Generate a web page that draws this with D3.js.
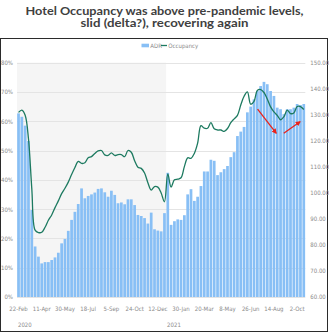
<!DOCTYPE html>
<html>
<head>
<meta charset="utf-8">
<script src="https://cdn.jsdelivr.net/npm/d3@7"></script>
<style>
  html, body { margin: 0; padding: 0; background: #fff; }
  svg { display: block; }
  .ax text { font-family: "Liberation Sans Narrow", "DejaVu Sans Condensed", sans-serif; font-size: 6px; fill: #8a8a8a; }
</style>
</head>
<body>
<svg id="chart" width="329" height="333"></svg>
<script>
// Weekly series, week starting 22 Feb 2020
const startWeek = new Date(2020, 1, 22);
const weekCount = 87;

// Average daily rate (right axis, $)
const adr = [
  130.5, 129.2, 125.8, 119.9, 93.4, 79.4, 75.5, 72.9, 73.4, 73.4,
  74.2, 75.2, 77.0, 80.6, 82.3, 85.4, 89.6, 92.7, 95.7, 101.7,
  97.9, 98.8, 99.4, 100.1, 101.5, 101.7, 100.2, 98.5, 100.8, 99.2,
  96.0, 96.3, 95.6, 97.5, 97.5, 95.3, 91.5, 91.1, 90.3, 88.2,
  92.4, 86.0, 85.5, 85.2, 92.2, 107.7, 87.7, 89.1, 89.8, 89.6,
  91.4, 99.4, 101.4, 96.9, 98.5, 102.6, 108.2, 108.2, 112.7, 112.3,
  106.8, 107.9, 109.1, 110.3, 113.7, 115.6, 121.8, 123.5, 125.3, 130.9,
  133.1, 135.9, 139.1, 141.0, 142.6, 141.7, 139.1, 137.2, 132.7, 132.1,
  130.2, 132.1, 132.1, 132.7, 134.1, 133.7, 134.1
];

// Occupancy (left axis, %)
const occupancy = [
  63.0, 63.8, 62.0, 54.0, 37.0, 22.8, 22.0, 22.1, 23.8, 26.2,
  28.0, 30.5, 32.8, 35.3, 37.1, 39.2, 41.8, 44.2, 46.3, 45.6,
  45.8, 47.5, 47.9, 49.0, 49.9, 50.0, 48.5, 48.3, 49.2, 48.3,
  48.6, 48.6, 47.9, 50.0, 49.4, 46.5, 44.3, 43.9, 42.3, 39.0,
  36.5, 37.7, 37.5, 35.5, 32.5, 42.0, 37.5, 40.0, 40.2, 40.7,
  44.5, 47.5, 47.3, 49.0, 52.5, 58.5, 57.6, 57.6, 59.5, 57.4,
  57.0, 57.0, 56.5, 57.5, 59.5, 60.8, 62.0, 65.5, 68.5, 70.0,
  65.8, 66.8, 70.5, 70.8, 69.8, 67.6, 64.9, 63.2, 62.0, 60.5,
  61.5, 63.8, 62.6, 62.8, 65.0, 65.0, 64.0
];

const leftTicks = [0, 10, 20, 30, 40, 50, 60, 70, 80];
const rightTicks = [60, 70, 80, 90, 100, 110, 120, 130, 140, 150];
const tickEvery = 7;
const yearLabels = ["2020", "2021"];

// Annotation arrows, in (week index, occupancy %) space
const arrows = [
  { from: [72.6, 64.1], to: [78.2, 55.9] },
  { from: [80.5, 55.9], to: [85.4, 59.8] }
];

const titleLines = [
  { text: "Hotel Occupancy was above pre-pandemic levels,", width: 278 },
  { text: "slid (delta?), recovering again", width: 168 }
];

const weeks = d3.range(weekCount).map(i => d3.timeWeek.offset(startWeek, i));
const fmt = d3.timeFormat("%-d-%b");

const svg = d3.select("#chart");

// Title
svg.append("g").selectAll("text").data(titleLines).join("text")
  .attr("x", 164.5).attr("y", (d, i) => 15 + i * 11.5)
  .attr("text-anchor", "middle")
  .attr("font-family", "Lato, 'Open Sans', sans-serif")
  .attr("font-weight", "bold")
  .attr("font-size", 11.2)
  .attr("fill", "#404040")
  .attr("textLength", d => d.width)
  .attr("lengthAdjust", "spacingAndGlyphs")
  .text(d => d.text);

// Chart frame
svg.append("rect")
  .attr("x", 0.5).attr("y", 38.5).attr("width", 327).attr("height", 293)
  .attr("fill", "#fff").attr("stroke", "#2b2b2b").attr("stroke-width", 1);

const plot = { left: 17, right: 305.3, top: 62.6, bottom: 297 };

const x = d3.scaleBand().domain(weeks).range([plot.left, plot.right]).paddingInner(0.18).paddingOuter(0.05);
const xi = d3.scaleLinear().domain([0, weekCount]).range([plot.left, plot.right]);
const yL = d3.scaleLinear().domain([0, 80]).range([plot.bottom, plot.top]);
const yR = d3.scaleLinear().domain([60, 150]).range([plot.bottom, plot.top]);

// Shaded 2020 band
const first2021 = weeks.findIndex(d => d.getFullYear() === 2021);
svg.append("rect")
  .attr("x", plot.left).attr("y", plot.top)
  .attr("width", xi(first2021) - plot.left).attr("height", plot.bottom - plot.top)
  .attr("fill", "#f5f5f5");

// Gridlines
svg.append("g").selectAll("line").data(leftTicks).join("line")
  .attr("x1", plot.left).attr("x2", plot.right)
  .attr("y1", d => Math.round(yL(d)) + 0.5).attr("y2", d => Math.round(yL(d)) + 0.5)
  .attr("stroke", "#e4e4e4").attr("stroke-width", 1);

// ADR bars
svg.append("g").selectAll("rect").data(adr).join("rect")
  .attr("x", (d, i) => x(weeks[i]))
  .attr("width", x.bandwidth())
  .attr("y", d => yR(d))
  .attr("height", d => yR(60) - yR(d))
  .attr("fill", "#88bff5");

// Occupancy line
const line = d3.line()
  .x((d, i) => x(weeks[i]) + x.bandwidth() / 2)
  .y(d => yL(d))
  .curve(d3.curveCatmullRom.alpha(0.5));
svg.append("path").datum(occupancy)
  .attr("d", line)
  .attr("fill", "none").attr("stroke", "#1d7a60").attr("stroke-width", 1.3);

// Left axis
const axL = d3.axisLeft(yL).tickValues(leftTicks).tickFormat(d => d + "%").tickSize(0).tickPadding(4);
svg.append("g").attr("class", "ax").attr("transform", `translate(${plot.left},0)`).call(axL)
  .call(g => g.select(".domain").remove());

// Right axis
const axR = d3.axisRight(yR).tickValues(rightTicks).tickFormat(d3.format(".2f")).tickSize(0).tickPadding(5);
svg.append("g").attr("class", "ax").attr("transform", `translate(${plot.right},0)`).call(axR)
  .call(g => g.select(".domain").remove());

// Bottom axis
const axB = d3.axisBottom(x).tickValues(weeks.filter((d, i) => i % tickEvery === 0))
  .tickFormat(fmt).tickSize(0).tickPadding(10);
svg.append("g").attr("class", "ax").attr("transform", `translate(0,${plot.bottom})`).call(axB)
  .call(g => g.select(".domain").remove());

// Year labels under the week ticks
const yearStarts = yearLabels.map(y => weeks.findIndex(d => d.getFullYear() === +y));
svg.append("g").attr("class", "ax").selectAll("text").data(yearLabels).join("text")
  .attr("x", (d, i) => xi(yearStarts[i]) + 1)
  .attr("y", 327)
  .text(d => d);

// Legend
const lg = svg.append("g").attr("class", "ax").attr("transform", "translate(141.5,45.5)");
lg.append("rect").attr("x", 0).attr("y", -1.8).attr("width", 7.5).attr("height", 3.6).attr("fill", "#88bff5");
lg.append("text").attr("x", 8.8).attr("y", 2).text("ADR");
lg.append("line").attr("x1", 19.5).attr("x2", 25.5).attr("y1", 0).attr("y2", 0)
  .attr("stroke", "#1d7a60").attr("stroke-width", 1.3);
lg.append("text").attr("x", 26.8).attr("y", 2).text("Occupancy");

// Arrows
const defs = svg.append("defs");
defs.append("marker").attr("id", "head")
  .attr("viewBox", "0 0 10 10").attr("refX", 8).attr("refY", 5)
  .attr("markerWidth", 4).attr("markerHeight", 4).attr("orient", "auto")
  .append("path").attr("d", "M0,0 L10,5 L0,10 Z").attr("fill", "#e8231c");
svg.append("g").selectAll("line").data(arrows).join("line")
  .attr("x1", d => xi(d.from[0])).attr("y1", d => yL(d.from[1]))
  .attr("x2", d => xi(d.to[0])).attr("y2", d => yL(d.to[1]))
  .attr("stroke", "#e8231c").attr("stroke-width", 1.3)
  .attr("marker-end", "url(#head)");
</script>
</body>
</html>
